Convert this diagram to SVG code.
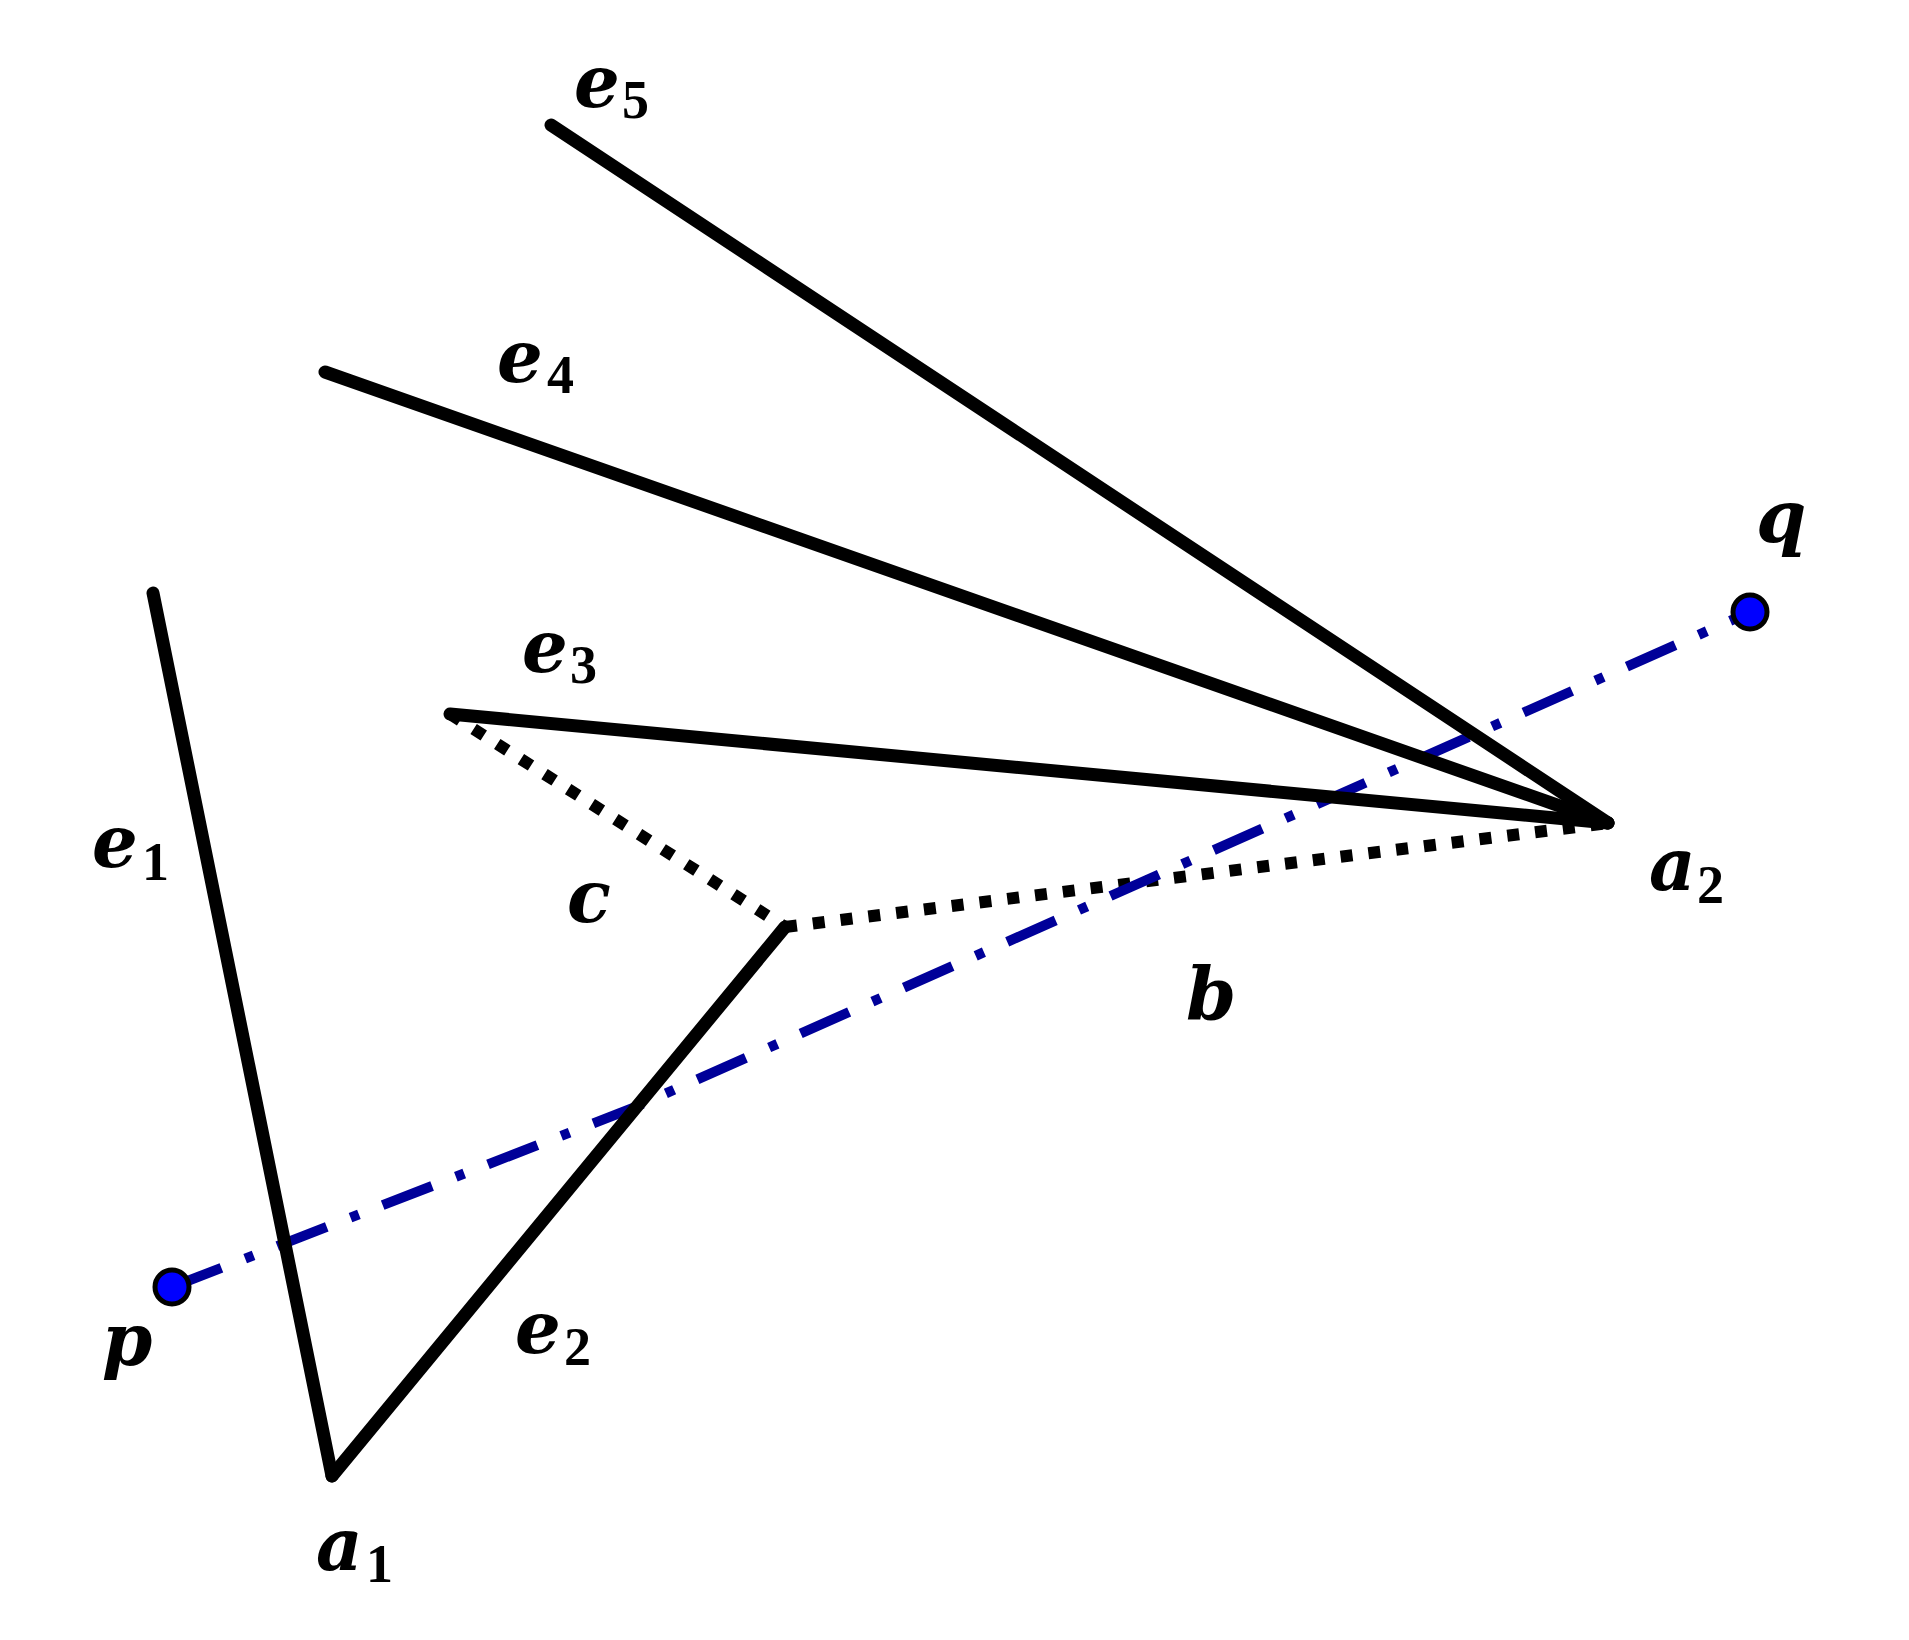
<svg xmlns="http://www.w3.org/2000/svg" width="1909" height="1640" viewBox="0 0 1909 1640">
<style>
.edge{stroke:#000;stroke-width:13;stroke-linecap:round;fill:none}
.dot{stroke:#000;stroke-width:12;stroke-dasharray:12 16;fill:none}
.pq{stroke:#000099;stroke-width:10;stroke-dasharray:53 25.5 9 25.5;fill:none}
.pt{fill:#0000ff;stroke:#000;stroke-width:5}
.m{font-family:"DejaVu Serif","Liberation Serif",serif;font-style:italic;font-weight:bold;font-size:72px;fill:#000}
.s{font-family:"Liberation Serif","DejaVu Serif",serif;font-style:normal;font-weight:bold;font-size:54px}
</style>
<rect width="1909" height="1640" fill="#fff"/>
<g id="connectors">
<line class="dot" x1="450" y1="714" x2="785" y2="927"/>
<line class="dot" x1="785" y1="927" x2="1608" y2="823"/>
<polyline class="pq" points="172,1287 633,1108 1750,612"/>
<line id="e1" class="edge" x1="153" y1="593" x2="332" y2="1476"/>
<line id="e2" class="edge" x1="332" y1="1476" x2="785" y2="927"/>
<line id="e3" class="edge" x1="450" y1="714" x2="1608" y2="823"/>
<line id="e4" class="edge" x1="325" y1="372" x2="1608" y2="823"/>
<line id="e5" class="edge" x1="551" y1="125" x2="1608" y2="823"/>
</g>
<g id="p"><circle class="pt" cx="172" cy="1287" r="17"/><text class="m" x="102" y="1365">p</text></g>
<g id="q"><circle class="pt" cx="1750" cy="612" r="17"/><text class="m" x="1756" y="542">q</text></g>
<g id="label-e1"><text class="m" x="92" y="867">e<tspan class="s" x="142" y="880">1</tspan></text></g>
<g id="label-e2"><text class="m" x="515" y="1353">e<tspan class="s" x="564" y="1365">2</tspan></text></g>
<g id="label-e3"><text class="m" x="522" y="672">e<tspan class="s" x="570" y="683">3</tspan></text></g>
<g id="label-e4"><text class="m" x="497" y="382">e<tspan class="s" x="547" y="393">4</tspan></text></g>
<g id="label-e5"><text class="m" x="574" y="107">e<tspan class="s" x="622" y="118">5</tspan></text></g>
<g id="label-c"><text class="m" x="567" y="922">c</text></g>
<g id="label-b"><text class="m" x="1186" y="1020">b</text></g>
<g id="a1"><text class="m" x="316" y="1570">a<tspan class="s" x="366" y="1582">1</tspan></text></g>
<g id="a2"><text class="m" x="1649" y="890">a<tspan class="s" x="1697" y="903">2</tspan></text></g>
</svg>
